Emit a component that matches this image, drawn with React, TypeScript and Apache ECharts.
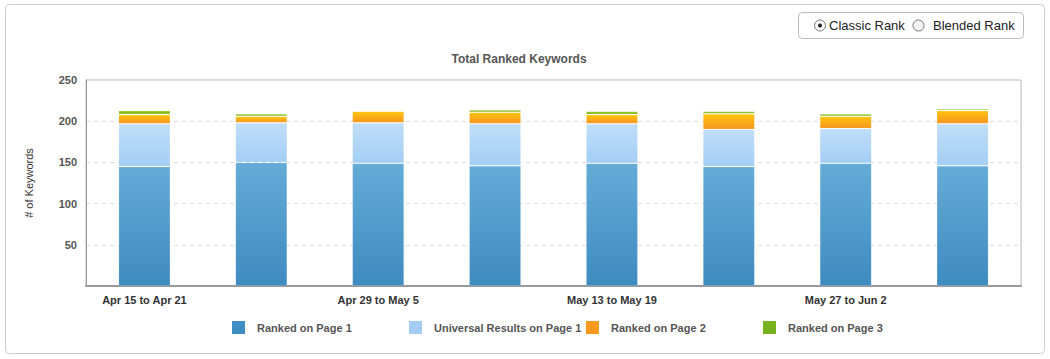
import React, { useEffect, useRef } from "react";
import * as echarts from "echarts";

const categories = [
  "Apr 15 to Apr 21",
  "Apr 22 to Apr 28",
  "Apr 29 to May 5",
  "May 6 to May 12",
  "May 13 to May 19",
  "May 20 to May 26",
  "May 27 to Jun 2",
  "Jun 3 to Jun 9",
];
const rankedPage1 = [145, 150, 149, 146, 149, 145, 149, 146];
const universalPage1 = [52, 48, 49, 51, 48, 45, 42, 51];
const rankedPage2 = [11, 8, 14, 14, 11, 19, 15, 16];
const rankedPage3 = [5, 3, 0, 3, 4, 3, 3, 2];
const yTicks = { min: 0, max: 250, interval: 50 };

const FONT = "'Liberation Sans', Arial, Helvetica, sans-serif";

function grad(top: string, bottom: string) {
  return new echarts.graphic.LinearGradient(0, 0, 0, 1, [
    { offset: 0, color: top },
    { offset: 1, color: bottom },
  ]);
}

export default function App() {
  const ref = useRef<HTMLDivElement>(null);
  useEffect(() => {
    if (!ref.current) return;
    const chart = echarts.init(ref.current, undefined, { renderer: "svg" });
    const seriesDefs = [
      { name: "Ranked on Page 1", data: rankedPage1, top: "#64acd7", bottom: "#3e8bc0", legend: "#3f8fc4" },
      { name: "Universal Results on Page 1", data: universalPage1, top: "#c0def8", bottom: "#a3cef5", legend: "#a3cdf4" },
      { name: "Ranked on Page 2", data: rankedPage2, top: "#ffc410", bottom: "#f7951e", legend: "#f7991c" },
      { name: "Ranked on Page 3", data: rankedPage3, top: "#9cc829", bottom: "#7ab51d", legend: "#76b11e" },
    ];
    const legendLefts = [227, 404, 581, 758];
    chart.setOption({
      animation: false,
      textStyle: { fontFamily: FONT },
      grid: { left: 86, right: 29, top: 80, bottom: 73, show: true, borderColor: "#b5b5b5", borderWidth: 1 },
      legend: seriesDefs.map((s, i) => ({
        data: [{ name: s.name, itemStyle: { color: s.legend, borderWidth: 0 } }],
        left: legendLefts[i],
        top: 316,
        itemWidth: 13,
        itemHeight: 13,
        icon: "rect",
        textStyle: { fontSize: 11, fontWeight: "bold", color: "#555", padding: [0, 0, 0, 7], fontFamily: FONT },
      })),
      xAxis: {
        type: "category",
        data: categories,
        axisTick: { show: false },
        axisLine: { lineStyle: { color: "#999", width: 2 } },
        axisLabel: { interval: 1, fontSize: 11, fontWeight: "bold", color: "#333", margin: 8 },
      },
      yAxis: {
        type: "value",
        min: yTicks.min,
        max: yTicks.max,
        interval: yTicks.interval,
        name: "# of Keywords",
        nameLocation: "middle",
        nameGap: 52,
        nameTextStyle: { fontSize: 11, color: "#333" },
        axisLine: { show: true, lineStyle: { color: "#999", width: 1 } },
        axisTick: { show: false },
        axisLabel: {
          fontSize: 11,
          fontWeight: "bold",
          color: "#555",
          margin: 9,
          formatter: (v: number) => (v === 0 ? "" : String(v)),
        },
        splitLine: { lineStyle: { color: "#dddddd", type: [4, 4] } },
      },
      series: seriesDefs.map((s) => ({
        type: "bar",
        name: s.name,
        stack: "total",
        barWidth: 52,
        data: s.data,
        color: s.legend,
        itemStyle: {
          color: grad(s.top, s.bottom),
          borderColor: "rgba(255,255,255,0.12)",
          borderWidth: 1,
        },
        emphasis: { disabled: true },
      })),
      graphic: [
        {
          type: "rect",
          silent: true,
          shape: { x: 5.5, y: 4.5, width: 1039, height: 349, r: 4 },
          style: { fill: "none", stroke: "#cccccc", lineWidth: 1 },
          z: -10,
        },
        {
          type: "text",
          x: 519,
          y: 59,
          style: {
            text: "Total Ranked Keywords",
            fontSize: 12,
            fontWeight: "bold",
            fill: "#555",
            align: "center",
            verticalAlign: "middle",
            fontFamily: FONT,
          },
        },
        {
          type: "rect",
          shape: { x: 798.5, y: 12.5, width: 225, height: 26, r: 4 },
          style: { fill: "#fff", stroke: "#bbbbbb", lineWidth: 1 },
        },
        {
          type: "circle",
          shape: { cx: 820, cy: 25.5, r: 5.5 },
          style: { fill: "#f4f4f4", stroke: "#777", lineWidth: 1 },
        },
        {
          type: "circle",
          shape: { cx: 820, cy: 25.5, r: 2 },
          style: { fill: "#222" },
        },
        {
          type: "text",
          x: 829,
          y: 25.5,
          style: { text: "Classic Rank", fontSize: 13, fill: "#222", verticalAlign: "middle", fontFamily: FONT },
        },
        {
          type: "circle",
          shape: { cx: 918.5, cy: 25.5, r: 5.5 },
          style: { fill: "#f4f4f4", stroke: "#777", lineWidth: 1 },
        },
        {
          type: "text",
          x: 933,
          y: 25.5,
          style: { text: "Blended Rank", fontSize: 13, fill: "#222", verticalAlign: "middle", fontFamily: FONT },
        },
      ],
    });
    return () => chart.dispose();
  }, []);
  return (
    <div
      ref={ref}
      style={{ position: "fixed", left: 0, top: 0, width: 1050, height: 359, background: "#fff" }}
    />
  );
}
